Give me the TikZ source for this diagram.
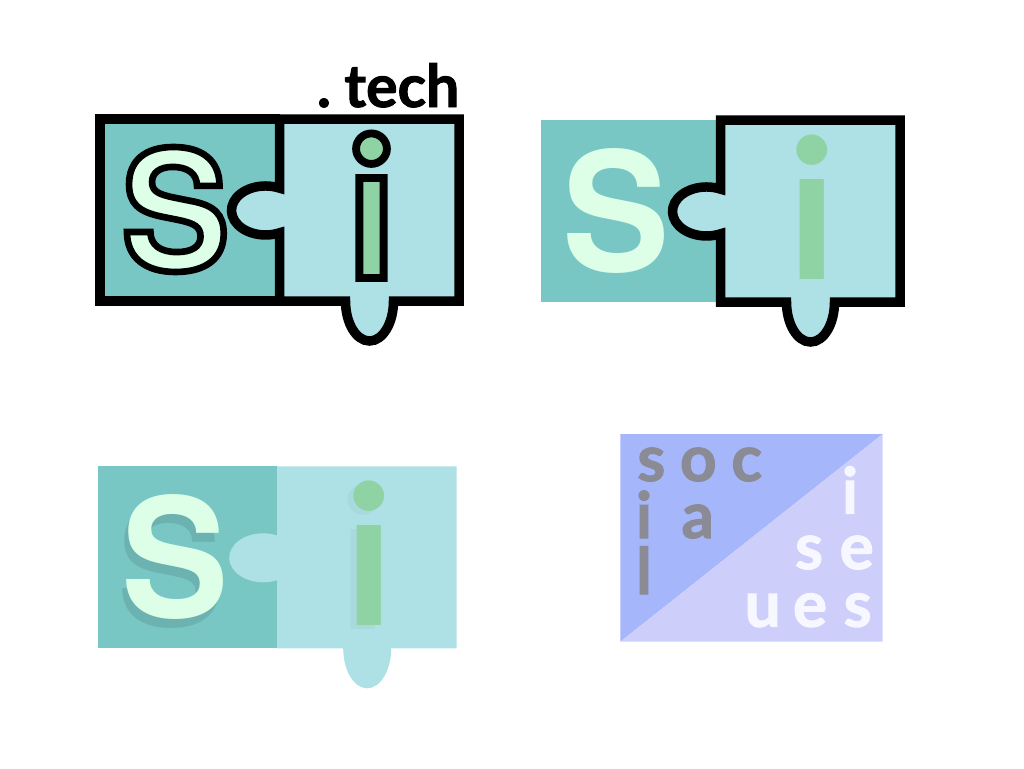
\documentclass[tikz,border=0pt]{standalone}
\usepackage{fontspec}
\setmainfont{Liberation Sans}
\newfontfamily\capfont[FakeStretch=0.97]{TeX Gyre Heros}
\newfontfamily\capedge[FakeStretch=0.97,FakeBold=4]{TeX Gyre Heros}
\newfontfamily\stemfont{Lato}
\newfontfamily\stemedge[FakeBold=4]{Lato}
\newfontfamily\tagfont[WordSpace=0.6,FakeBold=1.6]{Lato}
\definecolor{tealfill}{HTML}{79C7C5}
\definecolor{lightfill}{HTML}{ADE1E5}
\definecolor{mintfill}{HTML}{DDFFE7}
\definecolor{greenfill}{HTML}{8FD3A4}
\definecolor{bluefill}{HTML}{A5B6FA}
\definecolor{lilacfill}{HTML}{CDCFFA}
\definecolor{greytext}{HTML}{8B8B95}
\definecolor{palefont}{HTML}{F7F7FF}
% black stroke round the glyphs
\newcommand{\blackstroke}{\special{pdf:code 0 0 0 RG}}
% right piece, from the top left corner of the logo
\newcommand{\rightpiece}{(179.5,0) -- (359,0) -- (359,182) -- (293.5,182)
  arc[start angle=0, end angle=180, x radius=24, y radius=40]
  -- (179.5,182) -- (179.5,113.8)
  arc[start angle=65.7, end angle=294.3, x radius=34, y radius=24.5] -- cycle}
\tikzset{
  lettersoc/.style={anchor=base, inner sep=0pt, outer sep=0pt, text=greytext, font=\fontsize{64}{64}\tagfont\bfseries},
  letteriss/.style={lettersoc, text=palefont},
  capglyph/.style={anchor=base, inner sep=0pt, outer sep=0pt, font=\fontsize{166}{166}\capfont\bfseries},
  stemglyph/.style={anchor=base, inner sep=0pt, outer sep=0pt, font=\fontsize{195}{195}\stemfont\bfseries},
  edge/.style={line width=9.5pt, miter limit=10}
}
\begin{document}
\begin{tikzpicture}[x=1pt, y=-1pt]
  \useasboundingbox (0,0) rectangle (1024,768);
  % outlined logo
  \begin{scope}[shift={(100,119)}]
    \path[fill=tealfill] (0,0) rectangle (179.5,182);
    \path[fill=lightfill] \rightpiece;
    \node[capglyph, text=mintfill] (capOutlined) at (75.5,151) {\capedge\bfseries\blackstroke S};
    \node[stemglyph, text=greenfill] (stemOutlined) at (271.5,159) {\stemedge\bfseries\blackstroke i};
    \path[draw, edge] (179.5,0) -- (0,0) -- (0,182) -- (179.5,182);
    \path[draw, edge] \rightpiece;
    \node[anchor=base east, inner sep=0pt, font=\fontsize{59}{59}\tagfont\bfseries] (tagTech) at (359.5,-12) {. tech};
  \end{scope}
  % logo with the right piece outlined
  \begin{scope}[shift={(541,120)}]
    \path[fill=tealfill] (0,0) rectangle (179.5,182);
    \path[fill=lightfill] \rightpiece;
    \node[capglyph, text=mintfill] (capPlain) at (75.5,151) {S};
    \node[stemglyph, text=greenfill] (stemPlain) at (271.5,159) {i};
    \path[draw, edge] \rightpiece;
  \end{scope}
  % flat logo with shadows
  \begin{scope}[shift={(97.7,466.3)}]
    \path[fill=tealfill] (0,0) rectangle (179.5,182);
    \path[fill=lightfill] \rightpiece;
    \node[capglyph, text=black, text opacity=0.1] (capShadow) at (73.5,160) {S};
    \node[stemglyph, text=black, text opacity=0.03] (stemShadow) at (265.5,163) {i};
    \node[capglyph, text=mintfill] (capFlat) at (77.5,151) {S};
    \node[stemglyph, text=greenfill] (stemFlat) at (271.5,159) {i};
  \end{scope}
  % social issues
  \path[fill=bluefill] (620.3,641.7) -- (620.3,434) -- (882.7,434) -- cycle;
  \path[fill=lilacfill] (620.3,641.7) -- (882.7,641.7) -- (882.7,434) -- cycle;
  \foreach \letter/\posx/\posy [count=\n] in {s/651.3/481, o/698.3/481, c/746.7/481, i/644/538, a/697.7/538, l/644/594}
    \node[lettersoc] (soc\n) at (\posx,\posy) {\letter};
  \foreach \letter/\posx/\posy [count=\n] in {i/850/513.7, s/809/569, e/856.7/569, u/762.7/626.7, e/810/626.7, s/857.7/626.7}
    \node[letteriss] (iss\n) at (\posx,\posy) {\letter};
\end{tikzpicture}
\end{document}
